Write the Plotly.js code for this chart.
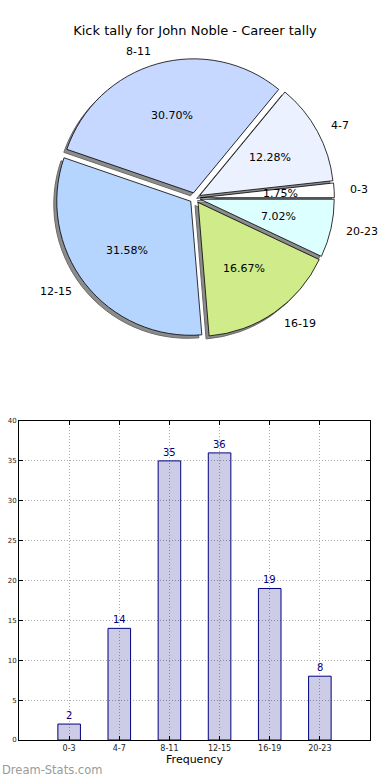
<!DOCTYPE html>
<html>
<head>
<meta charset="utf-8">
<script src="https://cdn.plot.ly/plotly-3.0.1.min.js"></script>
<style>html,body{margin:0;padding:0;background:#fff;}#chart{width:390px;height:780px;}</style>
</head>
<body>
<div id="chart"></div>
<script>
const categories = ["0-3", "4-7", "8-11", "12-15", "16-19", "20-23"];
const kicks = [2, 14, 35, 36, 19, 8];
const sliceColors = ["#FFFFFF", "#EBF1FF", "#C6D8FF", "#B5D5FF", "#D0EB8A", "#DCFFFF"];
const titleText = "Kick tally for John Noble - Career tally";
const xTitle = "Frequency";
const watermark = "Dream-Stats.com";

const W = 390, H = 780;
const M = {l: 19, r: 20, t: 0, b: 0};
const PW = W - M.l - M.r, PH = H - M.t - M.b;
const FONT = "DejaVu Sans, Liberation Sans, sans-serif";

const total = kicks.reduce((a, b) => a + b, 0);
// Plotly counterclockwise pies end the first slice at `rotation`; shift so it starts at 3 o'clock
const startRotation = 90 - 360 * kicks[0] / total;

// pie geometry (pixels)
const pieCX = 195, pieCY = 198, pieR = 134, pull = 0.04;
const half = pieR * (1 + pull);
function dom(cx, cy) {
  return {
    x: [(cx - half - M.l) / PW, (cx + half - M.l) / PW],
    y: [1 - (cy + half - M.t) / PH, 1 - (cy - half - M.t) / PH]
  };
}
const pullArr = categories.map(() => pull);

const shadow = {
  type: "pie", values: kicks, labels: categories, sort: false,
  direction: "counterclockwise", rotation: startRotation, pull: pullArr,
  domain: dom(pieCX - 3, pieCY + 3), textinfo: "none", hoverinfo: "skip",
  marker: {colors: categories.map(() => "#8c8c8c"), line: {color: "#6a6a6a", width: 1}},
  showlegend: false
};
const pie = {
  type: "pie", values: kicks, labels: categories, sort: false,
  direction: "counterclockwise", rotation: startRotation, pull: pullArr,
  domain: dom(pieCX, pieCY), textinfo: "none", hoverinfo: "label+percent",
  marker: {colors: sliceColors, line: {color: "#000000", width: 0.8}},
  showlegend: false
};
const bars = {
  type: "bar", x: categories.map((c, i) => i), y: kicks, width: 0.45,
  marker: {color: "rgba(0,0,128,0.2)", line: {color: "#000080", width: 1}},
  xaxis: "x", yaxis: "y", showlegend: false, hoverinfo: "x+y"
};

const axisCommon = {
  showline: true, linecolor: "#000", linewidth: 1, mirror: "ticks",
  ticks: "inside", ticklen: 4, tickcolor: "#000",
  showgrid: true, gridcolor: "#aaaaaa", griddash: "1px,2px", gridwidth: 1,
  zeroline: false, tickfont: {family: FONT, size: 7, color: "#222"}
};

const layout = {
  width: W, height: H, margin: M, paper_bgcolor: "#fff", plot_bgcolor: "#fff",
  font: {family: FONT},
  title: {text: titleText, font: {family: FONT, size: 13, color: "#000"}, x: 0.5, xanchor: "center", y: 1 - 30 / H, yanchor: "middle"},
  xaxis: Object.assign({}, axisCommon, {
    domain: [0, 1], anchor: "y", range: [-1, 6],
    tickmode: "array", tickvals: categories.map((c, i) => i), ticktext: categories,
    tickfont: {family: FONT, size: 8, color: "#222"},
    title: {text: xTitle, font: {family: FONT, size: 11, color: "#000"}, standoff: 1}
  }),
  yaxis: Object.assign({}, axisCommon, {
    domain: [1 - 740 / H, 1 - 421 / H], anchor: "x", range: [0, 40], dtick: 5
  }),
  annotations: [{
    text: watermark, xref: "paper", yref: "paper",
    x: (0 - M.l) / PW, y: 1 - 770 / H, xanchor: "left", yanchor: "middle",
    showarrow: false, font: {family: FONT, size: 11.5, color: "#9a9a9a"}
  }].concat(kicks.map((v, i) => ({
    text: String(v), xref: "x", yref: "y", x: i, y: v,
    xanchor: "center", yanchor: "bottom", yshift: 1, showarrow: false,
    font: {family: FONT, size: 10, color: "#000080"}
  })))
};

const gd = document.getElementById("chart");
Plotly.newPlot(gd, [shadow, pie, bars], layout, {displayModeBar: false, staticPlot: true}).then(() => {
  const cd0 = gd.calcdata[1][0];
  const r = cd0.r, cx = cd0.cx, cy = cd0.cy;
  let acc = 0;
  const anns = layout.annotations.slice();
  kicks.forEach((v, i) => {
    const mid = (acc + v / 2) / total * 2 * Math.PI;
    acc += v;
    const c = Math.cos(mid), s = Math.sin(mid);
    const lx = cx + (1.1 + pull) * r * c, ly = cy - (1.1 + pull) * r * s;
    const px = cx + (0.6 + pull) * r * c, py = cy - (0.6 + pull) * r * s;
    anns.push({
      text: categories[i], xref: "paper", yref: "paper",
      x: (lx - M.l) / PW, y: 1 - (ly - M.t) / PH,
      xanchor: c >= 0 ? "left" : "right", yanchor: "middle", showarrow: false,
      font: {family: FONT, size: 11, color: "#000"}
    });
    anns.push({
      text: (v / total * 100).toFixed(2) + "%", xref: "paper", yref: "paper",
      x: (px - M.l) / PW, y: 1 - (py - M.t) / PH,
      xanchor: "center", yanchor: "middle", showarrow: false,
      font: {family: FONT, size: 11, color: "#000"}
    });
  });
  return Plotly.relayout(gd, {annotations: anns});
});
</script>
</body>
</html>
